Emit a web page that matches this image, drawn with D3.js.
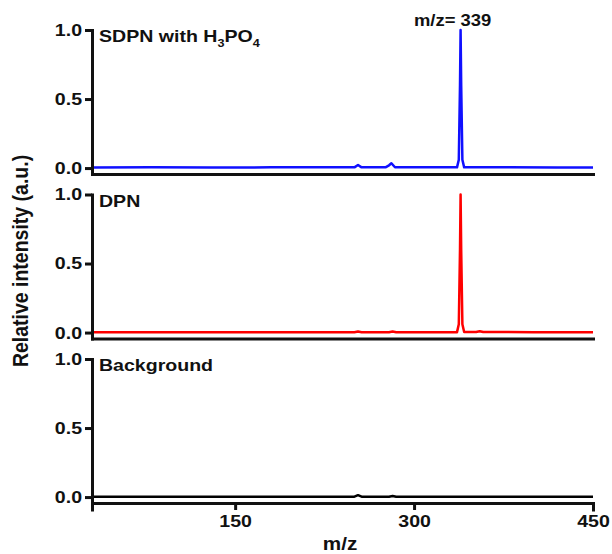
<!DOCTYPE html>
<html>
<head>
<meta charset="utf-8">
<script src="https://cdn.jsdelivr.net/npm/d3@7"></script>
<style>
  body { margin: 0; background: #fff; }
  svg text { font-family: "Liberation Sans", Arial, sans-serif; font-weight: bold; fill: #111; }
</style>
</head>
<body>
<div id="chart"></div>
<script>
// spectra (m/z, relative intensity)
var mzBlue  = [30, 80, 130, 180, 230, 250, 253, 256, 276, 279, 281, 284, 320, 336, 337.5, 338.5, 339, 339.5, 340.5, 342, 380, 420, 450];
var intBlue = [0.004, 0.005, 0.004, 0.005, 0.005, 0.005, 0.022, 0.005, 0.005, 0.02, 0.035, 0.006, 0.005, 0.005, 0.06, 0.6, 1.0, 0.6, 0.06, 0.005, 0.005, 0.004, 0.004];

var mzRed  = [30, 100, 180, 250, 253, 256, 279, 282, 285, 336, 337.5, 338.5, 339, 339.5, 340.5, 342, 352, 355, 358, 400, 450];
var intRed = [0.003, 0.003, 0.003, 0.003, 0.008, 0.003, 0.003, 0.008, 0.003, 0.003, 0.06, 0.6, 1.0, 0.6, 0.06, 0.004, 0.004, 0.01, 0.004, 0.003, 0.003];

var mzBlack  = [30, 150, 200, 250, 253, 256, 279, 282, 285, 350, 450];
var intBlack = [0.002, 0.002, 0.003, 0.003, 0.014, 0.003, 0.003, 0.008, 0.003, 0.002, 0.002];

var panelNames  = ["SDPN with H3PO4", "DPN", "Background"];
var panelColors = ["#1010ff", "#ff0000", "#000000"];
var yTicks = [0, 0.5, 1.0];
var xTicks = [150, 300, 450];
var peakLabel = "m/z= 339";
var peakMz = 339;

var width = 612, height = 554;
var stretch = 1.15;   // text in the picture is a bit wider than tall

var svg = d3.select("#chart").append("svg")
    .attr("width", width)
    .attr("height", height);

var x = d3.scaleLinear().domain([30, 450]).range([92, 593]);

var series = [
    {mz: mzBlue, val: intBlue},
    {mz: mzRed, val: intRed},
    {mz: mzBlack, val: intBlack}
];
var panelTop = [30, 194.5, 359];
var panelH = 144;

function widen(sel) {
    sel.each(function () {
        var w = this.getComputedTextLength();
        d3.select(this).attr("textLength", w * stretch).attr("lengthAdjust", "spacingAndGlyphs");
    });
}

series.forEach(function (s, i) {
    var top = panelTop[i];
    var y = d3.scaleLinear().domain([-0.043, 1]).range([top + panelH, top]);
    var g = svg.append("g");

    // spectrum
    var pts = s.mz.map(function (m, k) { return [m, s.val[k]]; });
    var line = d3.line()
        .x(function (d) { return x(d[0]); })
        .y(function (d) { return y(d[1]); });
    g.append("path")
        .datum(pts)
        .attr("d", line)
        .attr("fill", "none")
        .attr("stroke", panelColors[i])
        .attr("stroke-width", 2.5)
        .attr("stroke-linejoin", "round");

    // y axis
    var ya = g.append("g")
        .attr("transform", "translate(" + x.range()[0] + ",0)")
        .call(d3.axisLeft(y).tickValues(yTicks).tickFormat(d3.format(".1f")).tickSize(7).tickSizeOuter(0));
    ya.selectAll("path, line").attr("stroke", "#111").attr("stroke-width", 3);
    ya.selectAll("text")
        .attr("font-size", 17)
        .attr("x", -10)
        .attr("fill", "#111");
    widen(ya.selectAll("text"));

    // x axis (bottom line of each panel, ticks only at the bottom)
    var xa = d3.axisBottom(x).tickSizeOuter(0);
    if (i < 2) xa.tickValues([]);
    else xa.tickValues(xTicks).tickSize(7).tickFormat(d3.format("d"));
    var xg = g.append("g")
        .attr("transform", "translate(0," + (top + panelH) + ")")
        .call(xa);
    xg.selectAll("path, line").attr("stroke", "#111").attr("stroke-width", 3);
    xg.selectAll("text")
        .attr("font-size", 17)
        .attr("y", 12)
        .attr("fill", "#111");
    widen(xg.selectAll("text"));
    g.selectAll(".domain").attr("stroke-linecap", "square");

    // panel name
    var t = g.append("text")
        .attr("x", 99)
        .attr("y", top + 12)
        .attr("font-size", 17);
    if (i === 0) {
        t.append("tspan").text("SDPN with H");
        t.append("tspan").text("3").attr("font-size", 11).attr("dy", 5);
        t.append("tspan").text("PO").attr("dy", -5);
        t.append("tspan").text("4").attr("font-size", 11).attr("dy", 5);
    } else {
        t.text(panelNames[i]);
    }
    widen(t);

    if (i === 0) {
        var pl = g.append("text")
            .attr("x", x(peakMz) - 8)
            .attr("y", 26)
            .attr("text-anchor", "middle")
            .attr("font-size", 16)
            .text(peakLabel);
        widen(pl);
    }
});

// axis titles
svg.append("text")
    .attr("transform", "translate(28,261) rotate(-90) scale(1," + stretch + ")")
    .attr("text-anchor", "middle")
    .attr("font-size", 19.5)
    .text("Relative intensity (a.u.)");

var xt = svg.append("text")
    .attr("x", 340)
    .attr("y", 550)
    .attr("text-anchor", "middle")
    .attr("font-size", 18)
    .text("m/z");
widen(xt);
</script>
</body>
</html>
